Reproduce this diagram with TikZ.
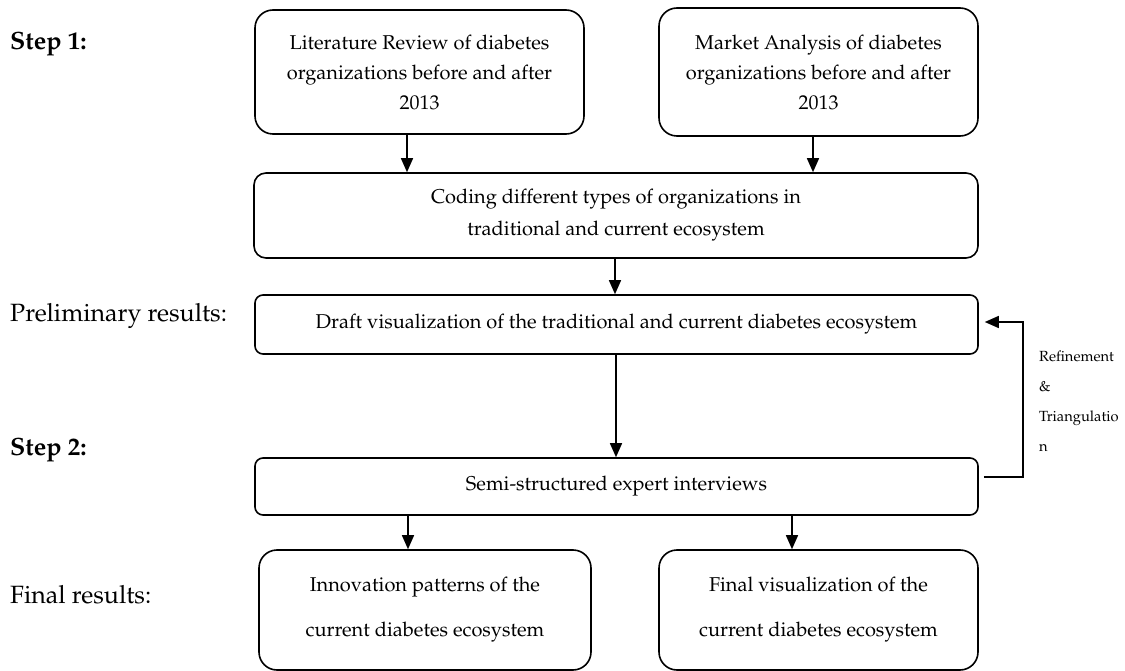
\documentclass[tikz,border=0pt]{standalone}
\usepackage[T1]{fontenc}
\usepackage{mathpazo}
\usetikzlibrary{arrows.meta,calc}
\begin{document}
\begin{tikzpicture}[x=1pt,y=-1pt,
  box/.style={draw,line width=1.6pt,align=center,inner sep=0pt},
  arr/.style={line width=1.5pt,-{Triangle[length=14pt,width=12pt]}},
  lab/.style={anchor=west,inner sep=0pt,font=\fontsize{25}{30}\selectfont},
  blab/.style={lab,font=\fontsize{25}{30}\selectfont\bfseries},
  txt/.style={font=\fontsize{20}{30}\selectfont}]
\useasboundingbox (0,0) rectangle (1125,671);
\node[box,txt,rounded corners=18pt,minimum width=329pt,minimum height=124pt] (A) at (419.5,72)
  {Literature Review of diabetes\\organizations before and after\\2013};
\node[box,txt,rounded corners=18pt,minimum width=319pt,minimum height=128pt] (B) at (818.5,72)
  {Market Analysis of diabetes\\organizations before and after\\2013};
\node[box,rounded corners=12pt,minimum width=724pt,minimum height=85pt,font=\fontsize{20}{32}\selectfont] (C) at (616,215.5)
  {Coding different types of organizations in\\traditional and current ecosystem};
\node[box,txt,rounded corners=8pt,minimum width=723pt,minimum height=59pt] (D) at (616.5,324.5)
  {Draft visualization of the traditional and current diabetes ecosystem};
\node[box,txt,rounded corners=8pt,minimum width=723pt,minimum height=57pt] (E) at (616.5,486.5)
  {Semi-structured expert interviews};
\node[box,rounded corners=18pt,minimum width=332pt,minimum height=120pt,font=\fontsize{20}{45}\selectfont] (F) at (425,610)
  {Innovation patterns of the\\current diabetes ecosystem};
\node[box,rounded corners=18pt,minimum width=319pt,minimum height=120pt,font=\fontsize{20}{45}\selectfont] (G) at (818.5,610)
  {Final visualization of the\\current diabetes ecosystem};

\node[blab] (s1) at (10,44) {Step 1:};
\node[lab] (pr) at (10,316) {Preliminary results:};
\node[blab] (s2) at (10,450) {Step 2:};
\node[lab] (fr) at (10,595) {Final results:};
\node[anchor=north west,inner sep=0pt,align=left,font=\fontsize{14.7}{30}\selectfont] (rt) at (1039,351)
  {Refinement\\\&\\Triangulatio\\n};

\draw[arr] ([xshift=-12.5pt]A.south) -- ([xshift=-12.5pt]A.south |- C.north);
\draw[arr] ([xshift=-5.5pt]B.south) -- ([xshift=-5.5pt]B.south |- C.north);
\draw[arr] ([xshift=-1pt]C.south) -- ([xshift=-1pt]C.south |- D.north);
\draw[arr] ([xshift=-0.5pt]D.south) -- ([xshift=-0.5pt]E.north);
\draw[arr] ([xshift=-17pt]F.north |- E.south) -- ([xshift=-17pt]F.north);
\draw[arr] ([xshift=-26.5pt]G.north |- E.south) -- ([xshift=-26.5pt]G.north);
\draw[arr] ([xshift=5pt,yshift=9.5pt]E.east) -- ++(39,0) |- ([xshift=6pt,yshift=2.5pt]D.east);
\end{tikzpicture}
\end{document}
